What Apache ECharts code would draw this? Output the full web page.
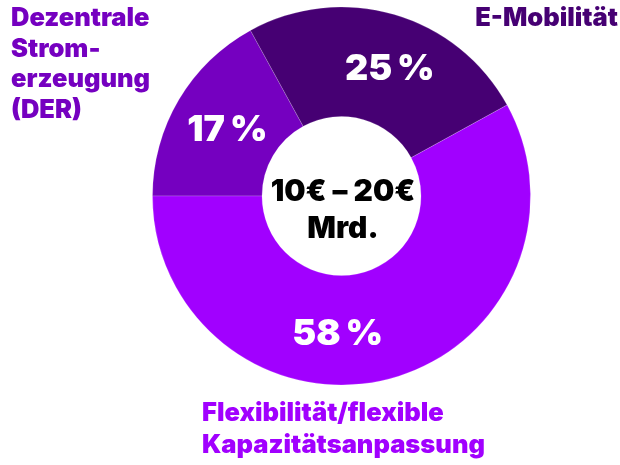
<!DOCTYPE html>
<html><head><meta charset="utf-8">
<script src="https://cdn.jsdelivr.net/npm/echarts@6/dist/echarts.min.js"></script>
<style>html,body{margin:0;padding:0;background:#fff}#c{width:620px;height:465px}</style>
</head><body><div id="c"></div>
<script>
const categories = ['Dezentrale Stromerzeugung (DER)', 'E-Mobilität', 'Flexibilität/flexible Kapazitätsanpassung'];
const labelTexts = ['Dezentrale\nStrom-\nerzeugung\n(DER)', 'E-Mobilität', 'Flexibilität/flexible\nKapazitätsanpassung'];
const shares = [17, 25, 58];
const centerLines = ['10€ – 20€', 'Mrd.'];
const colors = ['#7500C0', '#460073', '#A100FF'];

const FONT = 'Inter';
const labelOffsets = [[4, 4], [10, 5], [-38, 5]];
const chart = echarts.init(document.getElementById('c'));
const data = categories.map((name, i) => ({
  name: name, value: shares[i], itemStyle: { color: colors[i] },
  label: { offset: labelOffsets[i] }
}));
chart.setOption({
  animation: false,
  series: [{
    type: 'pie',
    center: [341.5, 196],
    radius: [79.5, 189],
    startAngle: 180,
    clockwise: true,
    silent: true,
    itemStyle: { borderColor: 'rgba(255,255,255,0.35)', borderWidth: 0.5 },
    label: {
      show: true, position: 'inside', color: '#fff',
      fontFamily: FONT, fontWeight: 900, fontSize: 36,
      formatter: p => p.value + '\u202F%'
    },
    labelLine: { show: false },
    data: data
  }],
  graphic: [
    { type: 'text', left: 11, top: 3, style: { text: labelTexts[0], fill: colors[0], font: '900 25.5px ' + FONT, lineHeight: 30.7 } },
    { type: 'text', right: 2, top: 3, style: { text: labelTexts[1], fill: colors[1], font: '900 25.5px ' + FONT, lineHeight: 30.7 } },
    { type: 'text', left: 202, top: 397, style: { text: labelTexts[2], fill: colors[2], font: '900 25.5px ' + FONT, lineHeight: 32.5 } },
    { type: 'text', x: 343, y: 173, style: { text: centerLines.join('\n'), fill: '#000', font: '900 30px ' + FONT, lineHeight: 37, textAlign: 'center' } }
  ]
});
</script></body></html>
